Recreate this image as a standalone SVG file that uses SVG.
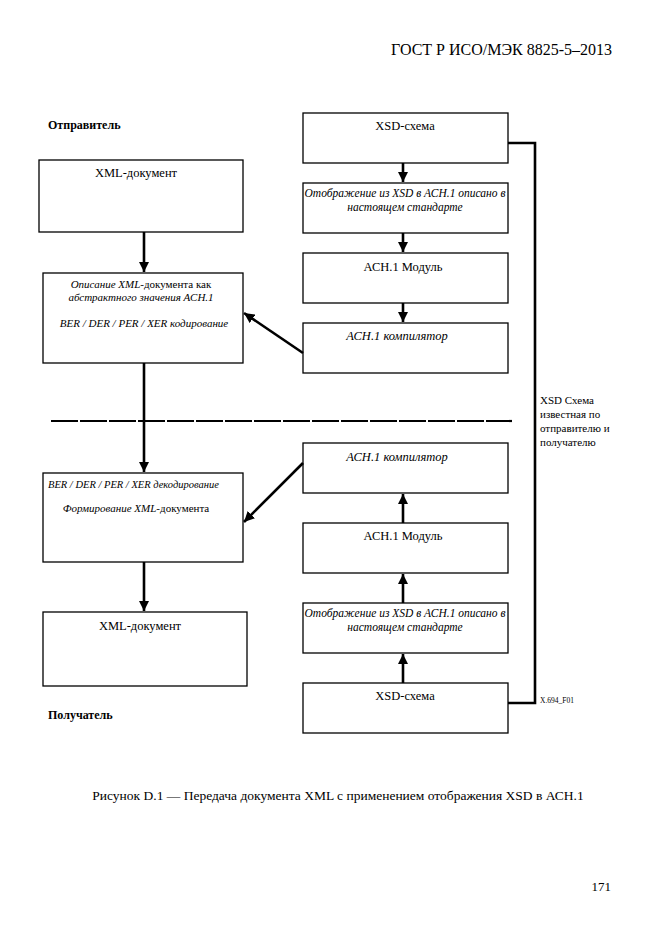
<svg xmlns="http://www.w3.org/2000/svg" width="661" height="935" viewBox="0 0 661 935" font-family="'Liberation Serif', 'Times New Roman', serif">
<style>
  text { font-family: "Liberation Serif", "Times New Roman", serif; fill: #000; }
  .box { fill: #fff; stroke: #000; stroke-width: 1.3; }
  .t { font-family: "Liberation Serif", serif; font-size: 12.5px; text-anchor: middle; }
  .ti { font-family: "Liberation Serif", serif; font-size: 12.5px; text-anchor: middle; font-style: italic; }
  .s { font-family: "Liberation Serif", serif; font-size: 11px; text-anchor: middle; }
  .m { font-family: "Liberation Serif", serif; font-size: 11.5px; text-anchor: middle; font-style: italic; }
  .si { font-family: "Liberation Serif", serif; font-size: 10.5px; font-style: italic; }
  .lbl { font-family: "Liberation Serif", serif; font-size: 12px; font-weight: bold; }
  .side { font-family: "Liberation Serif", serif; font-size: 11px; }
  .conn { fill: none; stroke: #000; stroke-width: 2.6; }
</style>
<defs>
  <marker id="ah" viewBox="0 0 10 10" refX="10" refY="5" markerWidth="4" markerHeight="4" orient="auto" markerUnits="strokeWidth">
    <path d="M0,0 L10,5 L0,10 Z" fill="#000"/>
  </marker>
</defs>
<text x="612" y="55" style="font-size:16px" text-anchor="end">ГОСТ Р ИСО/МЭК 8825-5–2013</text>
<text class="lbl" x="48" y="129">Отправитель</text>
<text class="lbl" x="48" y="719">Получатель</text>

<g id="xml-doc-top"><rect class="box" x="39" y="160" width="204" height="72"/><text class="t" x="136" y="177">XML-документ</text></g>
<g id="encode"><rect class="box" x="43" y="273" width="200" height="90"/>
  <text class="s" x="141" y="288"><tspan font-style="italic">Описание XML-</tspan>документа как</text>
  <text class="s" x="141" y="301" font-style="italic">абстрактного значения АСН.1</text>
  <text class="s" x="144" y="327" font-style="italic">BER / DER / PER / XER кодирование</text></g>
<g id="decode"><rect class="box" x="43" y="473" width="200" height="89"/>
  <text class="si" x="48" y="488">BER / DER / PER / XER декодирование</text>
  <text class="s" x="136" y="512"><tspan font-style="italic">Формирование XML-</tspan>документа</text></g>
<g id="xml-doc-bottom"><rect class="box" x="43" y="612" width="204" height="74"/><text class="t" x="140" y="630">XML-документ</text></g>

<g id="xsd-top"><rect class="box" x="303" y="113" width="205" height="50"/><text class="t" x="405" y="130">XSD-схема</text></g>
<g id="map-top"><rect class="box" x="303" y="183" width="205" height="50"/>
  <text class="m" x="405" y="197">Отображение из XSD в АСН.1 описано в</text>
  <text class="m" x="405" y="211">настоящем стандарте</text></g>
<g id="module-top"><rect class="box" x="303" y="253" width="205" height="50"/><text class="t" x="403" y="271">АСН.1 Модуль</text></g>
<g id="compiler-top"><rect class="box" x="303" y="323" width="205" height="50"/><text class="ti" x="397" y="340">АСН.1 компилятор</text></g>

<g id="compiler-bottom"><rect class="box" x="303" y="443" width="205" height="50"/><text class="ti" x="397" y="461">АСН.1 компилятор</text></g>
<g id="module-bottom"><rect class="box" x="303" y="523" width="205" height="50"/><text class="t" x="403" y="540">АСН.1 Модуль</text></g>
<g id="map-bottom"><rect class="box" x="303" y="603" width="205" height="50"/>
  <text class="m" x="405" y="617">Отображение из XSD в АСН.1 описано в</text>
  <text class="m" x="405" y="631">настоящем стандарте</text></g>
<g id="xsd-bottom"><rect class="box" x="303" y="683" width="205" height="50"/><text class="t" x="405" y="700">XSD-схема</text></g>

<g id="connectors">
  <line class="conn" x1="144" y1="232" x2="144" y2="272" marker-end="url(#ah)"/>
  <line class="conn" x1="144" y1="363" x2="144" y2="472" marker-end="url(#ah)"/>
  <line class="conn" x1="144" y1="562" x2="144" y2="611" marker-end="url(#ah)"/>
  <line class="conn" x1="403" y1="163" x2="403" y2="182" marker-end="url(#ah)"/>
  <line class="conn" x1="403" y1="233" x2="403" y2="252" marker-end="url(#ah)"/>
  <line class="conn" x1="403" y1="303" x2="403" y2="322" marker-end="url(#ah)"/>
  <line class="conn" x1="303" y1="353" x2="244" y2="313" marker-end="url(#ah)"/>
  <line class="conn" x1="303" y1="463" x2="244" y2="522" marker-end="url(#ah)"/>
  <line class="conn" x1="403" y1="523" x2="403" y2="494" marker-end="url(#ah)"/>
  <line class="conn" x1="403" y1="603" x2="403" y2="574" marker-end="url(#ah)"/>
  <line class="conn" x1="403" y1="683" x2="403" y2="654" marker-end="url(#ah)"/>
  <polyline class="conn" points="508,143 535,143 535,703 508,703"/>
  <line x1="51" y1="421" x2="512" y2="421" stroke="#000" stroke-width="2.2" stroke-dasharray="27,2"/>
</g>

<text class="side" x="540" y="404">XSD Схема</text>
<text class="side" x="540" y="418">известная по</text>
<text class="side" x="540" y="432">отправителю и</text>
<text class="side" x="540" y="446">получателю</text>
<text x="540" y="703" style="font-size:7.5px">X.694_F01</text>

<text x="338" y="800" style="font-size:13.5px" text-anchor="middle">Рисунок D.1 — Передача документа XML с применением отображения XSD в АСН.1</text>
<text x="611" y="891" style="font-size:13px" text-anchor="end">171</text>
</svg>
